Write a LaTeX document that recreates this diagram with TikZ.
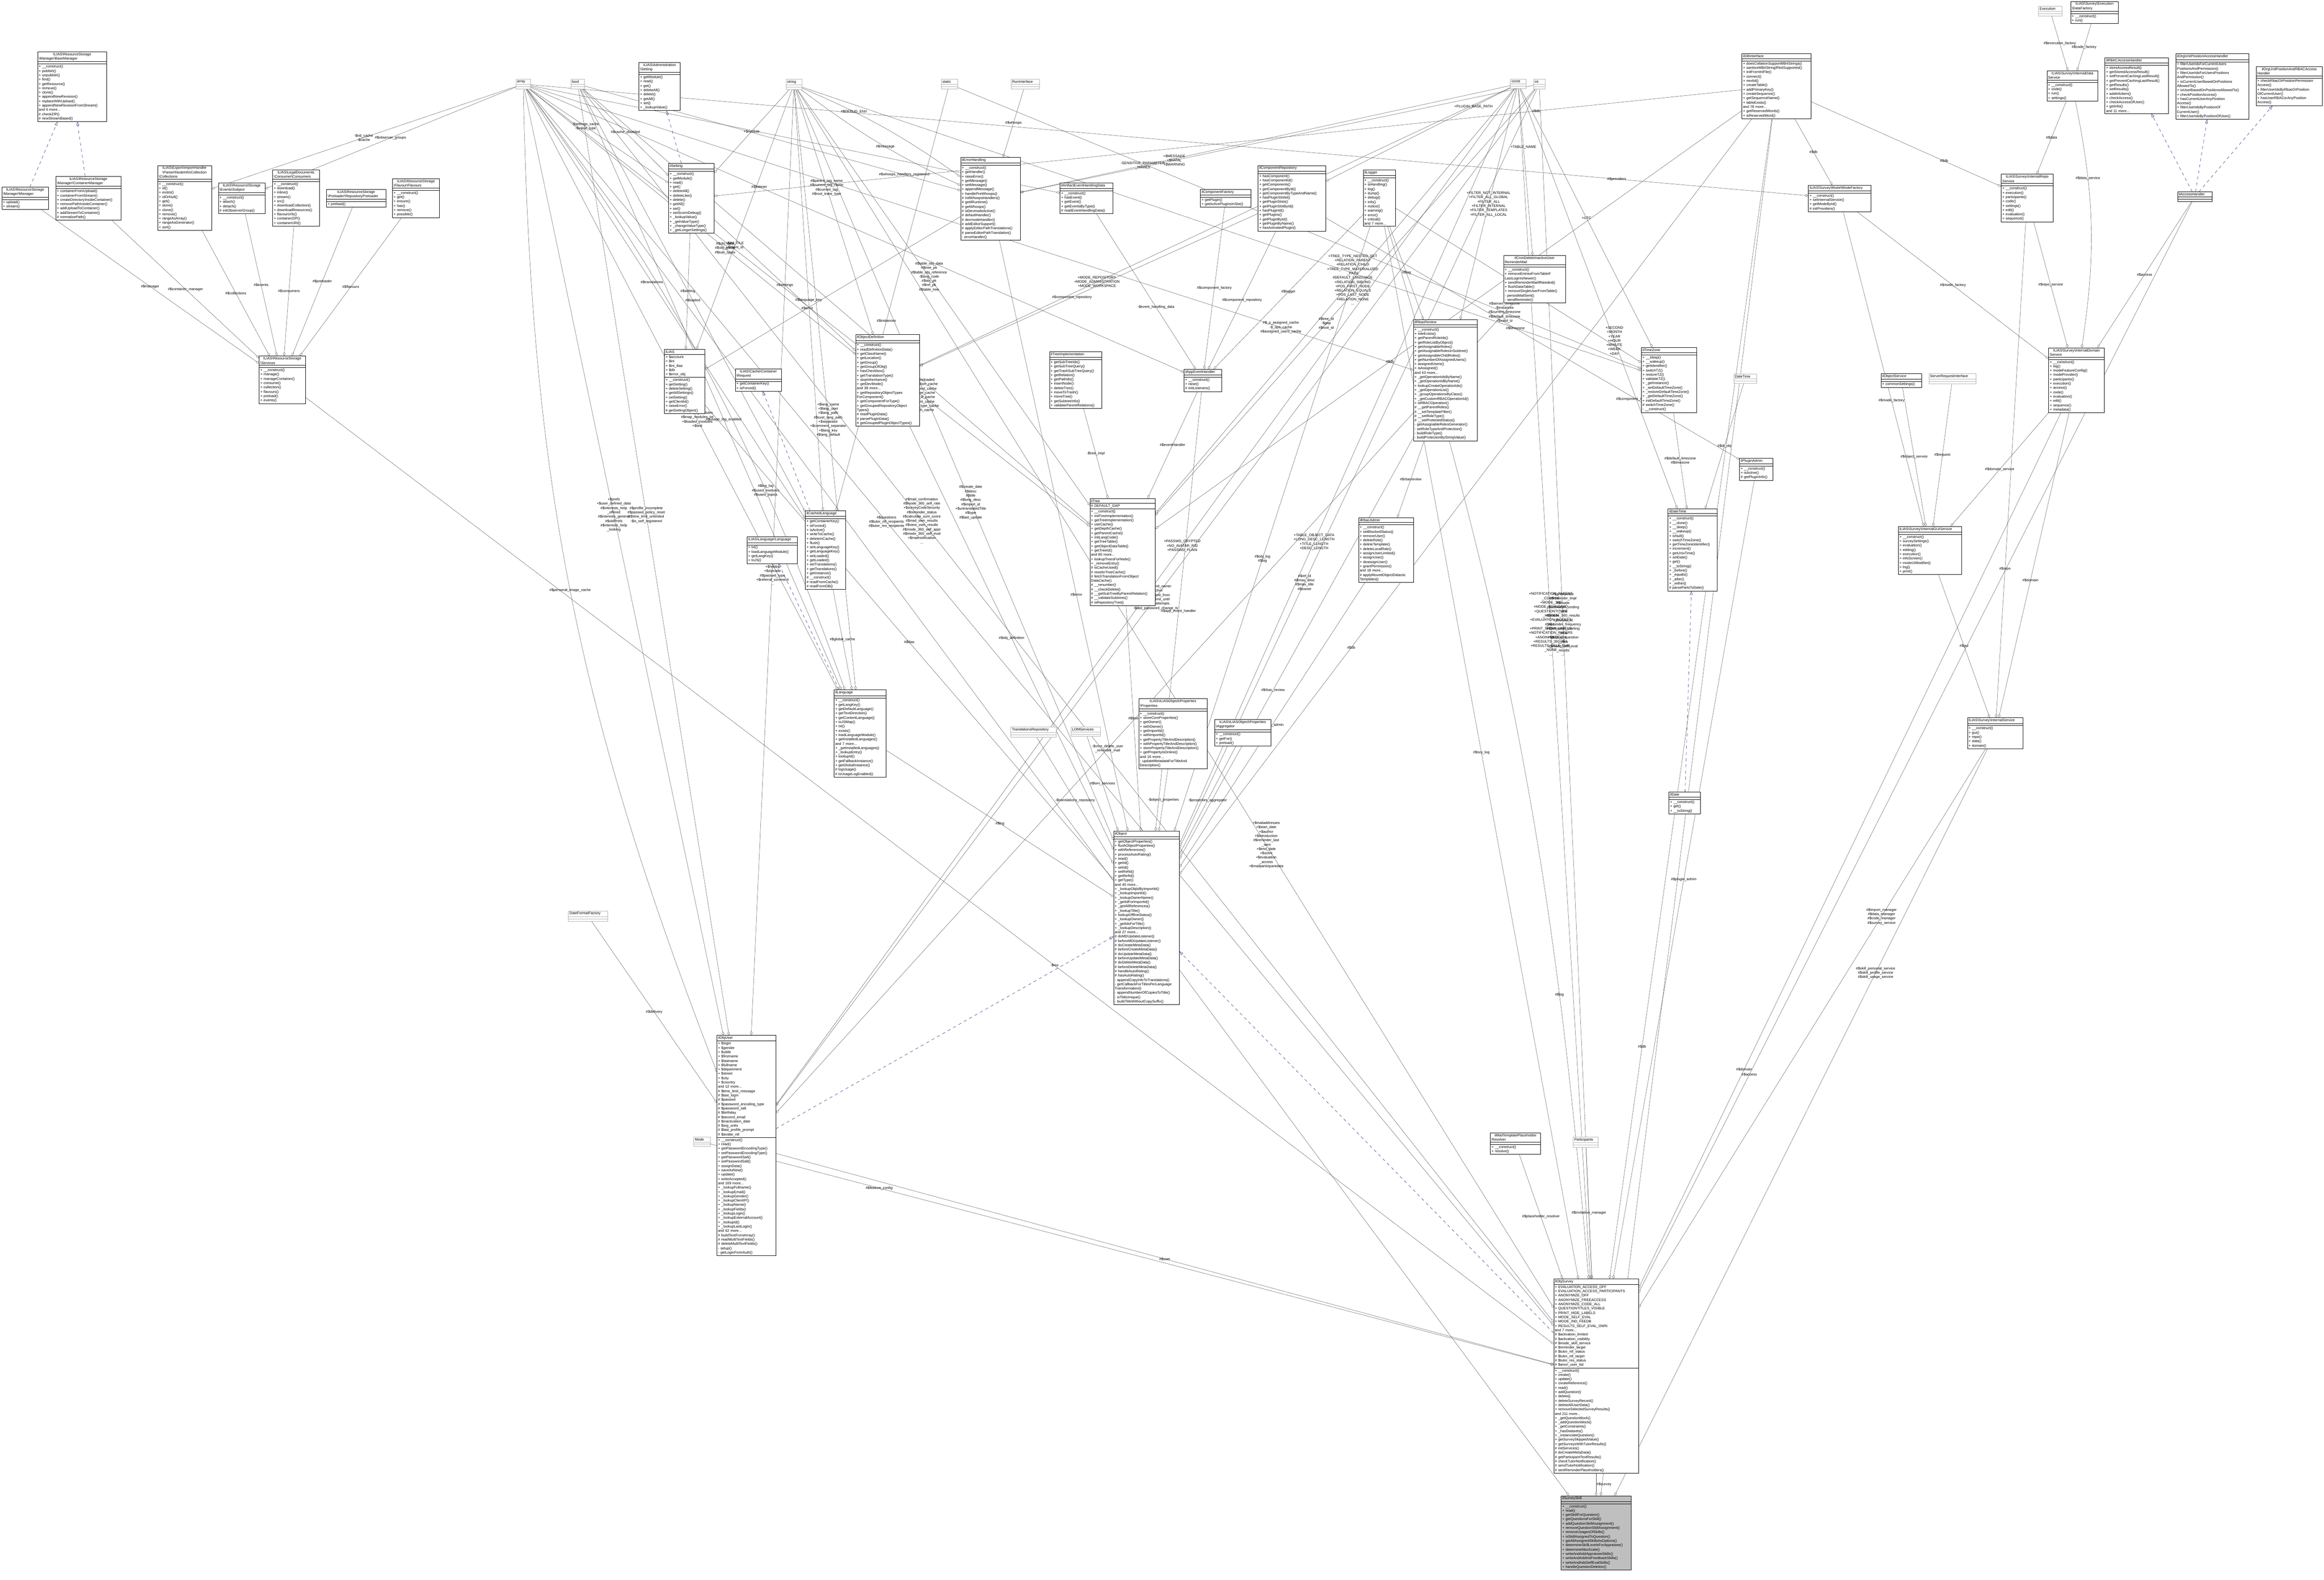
\documentclass[tikz,border=0pt]{standalone}
\usepackage{fontspec}
\setmainfont{Liberation Sans}
\usetikzlibrary{arrows.meta,shapes.multipart,backgrounds}

\newcommand{\dfont}{\fontsize{3.5}{4.2}\selectfont}
\newcommand{\bsl}{\textbackslash}
\definecolor{inhblue}{HTML}{191970}

\tikzset{
	cls/.style={
		draw=black, fill=white, line width=0.25pt,
		rectangle split, rectangle split parts=3,
		anchor=north west, align=left,
		inner xsep=0.04cm, inner ysep=0.035cm,
		font=\dfont,
	},
	typ/.style={cls, draw=gray!60},
	agg/.style={draw=black!75, line width=0.2pt,
		-{Diamond[open,length=0.13cm,width=0.08cm]}},
	inh/.style={draw=inhblue, line width=0.25pt, dashed,
		-{Triangle[open,length=0.13cm,width=0.09cm]}},
	lbl/.style={font=\dfont, align=center, inner sep=0.5pt},
}

\begin{document}
\begin{tikzpicture}
	\useasboundingbox (0,0) rectangle (79.31,-53.89);

	% resource storage
	\node[cls, text width=2.28cm] (basemgr) at (1.28,-1.76) {\centering ILIAS\bsl ResourceStorage\\\bsl Manager\bsl BaseManager
		\nodepart{two}\mbox{}
		\nodepart{three}+ \_\_construct()\\+ publish()\\+ unpublish()\\+ find()\\+ getResource()\\+ remove()\\+ clone()\\+ appendNewRevision()\\+ replaceWithUpload()\\+ appendNewRevisionFromStream()\\and 6 more...\\\# checkZIP()\\\# newStreamBased()};
	\node[cls, text width=1.51cm] (manager) at (0.06,-6.38) {\centering ILIAS\bsl ResourceStorage\\\bsl Manager\bsl Manager
		\nodepart{two}\mbox{}
		\nodepart{three}+ upload()\\+ stream()};
	\node[cls, text width=2.14cm] (contmgr) at (1.90,-6.01) {\centering ILIAS\bsl ResourceStorage\\\bsl Manager\bsl ContainerManager
		\nodepart{two}\mbox{}
		\nodepart{three}+ containerFromUpload()\\+ containerFromStream()\\+ createDirectoryInsideContainer()\\+ removePathInsideContainer()\\+ addUploadToContainer()\\+ addStreamToContainer()\\\# normalizePath()};
	\node[cls, text width=1.75cm] (collections) at (5.38,-5.64) {\centering ILIAS\bsl Export\bsl ImportHandler\\\bsl Parser\bsl NodeInfo\bsl Collection\\\bsl Collections
		\nodepart{two}\mbox{}
		\nodepart{three}+ \_\_construct()\\+ id()\\+ exists()\\+ idOrNull()\\+ get()\\+ store()\\+ clone()\\+ remove()\\+ rangeAsArray()\\+ rangeAsGenerator()\\+ sort()};
	\node[cls, text width=1.51cm] (subject) at (7.45,-6.23) {\centering ILIAS\bsl ResourceStorage\\\bsl Events\bsl Subject
		\nodepart{two}\mbox{}
		\nodepart{three}+ \_\_construct()\\+ attach()\\+ detach()\\\# initObserverGroup()};
	\node[cls, text width=1.51cm] (consumers) at (9.30,-5.79) {\centering ILIAS\bsl LegalDocuments\\\bsl Consumer\bsl Consumers
		\nodepart{two}\mbox{}
		\nodepart{three}+ \_\_construct()\\+ download()\\+ inline()\\+ stream()\\+ src()\\+ downloadCollection()\\+ downloadResources()\\+ flavourUrls()\\+ containerZIP()\\+ containerURI()};
	\node[cls, text width=1.94cm] (preloader) at (11.14,-6.45) {\centering ILIAS\bsl ResourceStorage\\\bsl Preloader\bsl RepositoryPreloader
		\nodepart{two}\mbox{}
		\nodepart{three}+ preload()};
	\node[cls, text width=1.52cm] (flavours) at (13.39,-6.09) {\centering ILIAS\bsl ResourceStorage\\\bsl Flavour\bsl Flavours
		\nodepart{two}\mbox{}
		\nodepart{three}+ \_\_construct()\\+ get()\\+ ensure()\\+ has()\\+ remove()\\+ possible()};
	\node[cls, text width=1.50cm] (services) at (8.84,-12.14) {\centering ILIAS\bsl ResourceStorage\\\bsl Services
		\nodepart{two}\mbox{}
		\nodepart{three}+ \_\_construct()\\+ manage()\\+ manageContainer()\\+ consume()\\+ collection()\\+ flavours()\\+ preload()\\+ events()};

	% plain types
	\node[typ, text width=0.42cm] (array) at (17.60,-2.70) {\centering array\nodepart{two}\mbox{}\nodepart{three}\mbox{}};
	\node[typ, text width=0.38cm] (bool) at (19.48,-2.70) {\centering bool\nodepart{two}\mbox{}\nodepart{three}\mbox{}};
	\node[typ, text width=0.46cm] (string) at (26.82,-2.70) {\centering string\nodepart{two}\mbox{}\nodepart{three}\mbox{}};
	\node[typ, text width=0.47cm] (static) at (32.12,-2.70) {\centering static\nodepart{two}\mbox{}\nodepart{three}\mbox{}};
	\node[typ, text width=0.89cm] (runif) at (34.50,-2.70) {\centering RunInterface\nodepart{two}\mbox{}\nodepart{three}\mbox{}};
	\node[typ, text width=0.45cm] (const) at (51.54,-2.70) {\centering const\nodepart{two}\mbox{}\nodepart{three}\mbox{}};
	\node[typ, text width=0.31cm] (int) at (52.33,-2.70) {\centering int\nodepart{two}\mbox{}\nodepart{three}\mbox{}};
	\node[typ, text width=0.72cm] (execution) at (69.56,-0.21) {\centering Execution\nodepart{two}\mbox{}\nodepart{three}\mbox{}};
	\node[typ, text width=0.70cm] (datetimeT) at (59.16,-12.75) {\centering DateTime\nodepart{two}\mbox{}\nodepart{three}\mbox{}};
	\node[typ, text width=1.53cm] (srvreq) at (65.82,-12.74) {\centering ServerRequestInterface\nodepart{two}\mbox{}\nodepart{three}\mbox{}};
	\node[typ, text width=1.47cm] (translrepo) at (34.49,-24.79) {\centering TranslationsRepository\nodepart{two}\mbox{}\nodepart{three}\mbox{}};
	\node[typ, text width=0.92cm] (lom) at (36.54,-24.79) {\centering LOMServices\nodepart{two}\mbox{}\nodepart{three}\mbox{}};
	\node[typ, text width=1.26cm] (dateformat) at (19.39,-31.07) {\centering DateFormatFactory\nodepart{two}\mbox{}\nodepart{three}\mbox{}};
	\node[typ, text width=0.49cm] (mode) at (23.67,-38.78) {\centering Mode\nodepart{two}\mbox{}\nodepart{three}\mbox{}};
	\node[typ, text width=0.78cm] (participants) at (53.68,-38.78) {\centering Participants\nodepart{two}\mbox{}\nodepart{three}\mbox{}};

	% settings, errors, ILIAS
	\node[cls, text width=1.33cm] (adminsetting) at (21.80,-2.12) {\centering ILIAS\bsl Administration\\\bsl Setting
		\nodepart{two}\mbox{}
		\nodepart{three}+ getModule()\\+ read()\\+ get()\\+ deleteAll()\\+ delete()\\+ getAll()\\+ set()\\+ \_lookupValue()};
	\node[cls, text width=1.47cm] (ilsetting) at (22.81,-5.57) {\centering ilSetting
		\nodepart{two}\mbox{}
		\nodepart{three}+ \_\_construct()\\+ getModule()\\+ read()\\+ get()\\+ deleteAll()\\+ deleteLike()\\+ delete()\\+ getAll()\\+ set()\\+ setScormDebug()\\+ \_lookupValue()\\+ \_getValueType()\\+ \_changeValueType()\\+ \_getLongerSettings()};
	\node[cls, text width=1.95cm] (errh) at (32.78,-5.36) {\centering ilErrorHandling
		\nodepart{two}\mbox{}
		\nodepart{three}+ \_\_construct()\\+ getHandler()\\+ raiseError()\\+ getMessage()\\+ setMessage()\\+ appendMessage()\\+ handlePreWhoops()\\\# initWhoopsHandlers()\\\# getIlRuntime()\\\# getWhoops()\\\# isDevmodeActive()\\\# defaultHandler()\\\# devmodeHandler()\\\# addEditorSupport()\\\# applyEditorPathTranslations()\\\# parseEditorPathTranslation()\\- errorHandler()};
	\node[cls, text width=1.73cm] (artifact) at (36.17,-6.23) {\centering ilArtifactEventHandlingData
		\nodepart{two}\mbox{}
		\nodepart{three}+ \_\_construct()\\+ hasEvent()\\+ getEvent()\\+ getEventsByType()\\\# readEventHandlingData()};
	\node[cls, text width=2.10cm] (objdef) at (29.20,-11.41) {\centering ilObjectDefinition
		\nodepart{two}\mbox{}
		\nodepart{three}+ \_\_construct()\\+ readDefinitionData()\\+ getClassName()\\+ getLocation()\\+ getGroup()\\+ getGroupOfObj()\\+ hasCheckbox()\\+ getTranslationType()\\+ stopInheritance()\\+ getDevMode()\\and 38 more...\\+ getRepositoryObjectTypes\\ForComponent()\\+ getComponentForType()\\+ getGroupedRepositoryObject\\Types()\\\# readPluginData()\\\# parsePluginData()\\\# getGroupedPluginObjectTypes()};
	\node[cls, text width=1.30cm] (ilias) at (22.67,-11.92) {\centering ILIAS
		\nodepart{two}+ \$account\\+ \$ini\\+ \$ini\_ilias\\+ \$db\\+ \$error\_obj
		\nodepart{three}+ \_\_construct()\\+ getSetting()\\+ deleteSetting()\\+ getAllSettings()\\+ setSetting()\\+ getClientId()\\+ raiseError()\\\# getSettingObject()};
	\node[cls, text width=1.49cm] (request) at (25.09,-12.58) {\centering ILIAS\bsl Cache\bsl Container\\\bsl Request
		\nodepart{two}\mbox{}
		\nodepart{three}+ getContainerKey()\\+ isForced()};
	\node[cls, text width=1.71cm] (treeimpl) at (35.81,-11.99) {\centering ilTreeImplementation
		\nodepart{two}\mbox{}
		\nodepart{three}+ getSubTreeIds()\\+ getSubTreeQuery()\\+ getTrashSubTreeQuery()\\+ getRelation()\\+ getPathIds()\\+ insertNode()\\+ deleteTree()\\+ moveToTrash()\\+ moveTree()\\+ getSubtreeInfo()\\+ validateParentRelations()};

	% components, logging, rbac
	\node[cls, text width=2.23cm] (comprepo) at (42.93,-5.64) {\centering ilComponentRepository
		\nodepart{two}\mbox{}
		\nodepart{three}+ hasComponent()\\+ hasComponentId()\\+ getComponents()\\+ getComponentById()\\+ getComponentByTypeAndName()\\+ hasPluginSlotId()\\+ getPluginSlots()\\+ getPluginSlotById()\\+ hasPluginId()\\+ getPlugins()\\+ getPluginById()\\+ getPluginByName()\\+ hasActivatedPlugin()};
	\node[cls, text width=1.65cm] (compfactory) at (40.96,-6.45) {\centering ilComponentFactory
		\nodepart{two}\mbox{}
		\nodepart{three}+ getPlugin()\\+ getActivePluginsInSlot()};
	\node[cls, text width=1.01cm] (logger) at (46.52,-5.79) {\centering ilLogger
		\nodepart{two}\mbox{}
		\nodepart{three}+ \_\_construct()\\+ isHandling()\\+ log()\\+ dump()\\+ debug()\\+ info()\\+ notice()\\+ warning()\\+ error()\\+ critical()\\and 7 more...};
	\node[cls, text width=2.03cm] (cron) at (51.31,-8.71) {\centering ilCronDeleteInactiveUser\\ReminderMail
		\nodepart{two}\mbox{}
		\nodepart{three}+ \_\_construct()\\+ removeEntriesFromTableIf\\LastLoginIsNewer()\\+ sendReminderMailIfNeeded()\\+ flushDataTable()\\+ removeSingleUserFromTable()\\- persistMailSent()\\- sendReminder()};
	\node[cls, text width=2.10cm] (rbacreview) at (48.23,-10.90) {\centering ilRbacReview
		\nodepart{two}\mbox{}
		\nodepart{three}+ \_\_construct()\\+ roleExists()\\+ getParentRoleIds()\\+ getRoleListByObject()\\+ getAssignableRoles()\\+ getAssignableRolesInSubtree()\\+ getAssignableChildRoles()\\+ getNumberOfAssignedUsers()\\+ assignedUsers()\\+ isAssigned()\\and 43 more...\\+ \_getOperationIdsByName()\\+ \_getOperationIdByName()\\+ lookupCreateOperationIds()\\+ \_getOperationList()\\+ \_groupOperationsByClass()\\+ \_getCustomRBACOperationId()\\+ isRBACOperation()\\\# \_\_getParentRoles()\\\# \_\_setTemplateFilter()\\\# \_\_setRoleType()\\\# \_\_setProtectedStatus()\\- getAssignableRolesGenerator()\\- setRoleTypeAndProtection()\\- buildRoleType()\\- buildProtectionByStringValue()};
	\node[cls, text width=1.80cm] (timezone) at (56.01,-11.85) {\centering ilTimeZone
		\nodepart{two}\mbox{}
		\nodepart{three}+ \_\_sleep()\\+ \_\_wakeup()\\+ getIdentifier()\\+ switchTZ()\\+ restoreTZ()\\+ validateTZ()\\+ \_getInstance()\\+ \_setDefaultTimeZone()\\+ \_restoreDefaultTimeZone()\\+ \_getDefaultTimeZone()\\+ initDefaultTimeZone()\\\# switchTimeZone()\\- \_\_construct()};
	\node[cls, text width=1.20cm] (appevent) at (40.40,-12.59) {\centering ilAppEventHandler
		\nodepart{two}\mbox{}
		\nodepart{three}+ \_\_construct()\\+ raise()\\\# initListeners()};
	\node[cls, text width=2.27cm] (dbi) at (59.44,-1.83) {\centering ilDBInterface
		\nodepart{two}\mbox{}
		\nodepart{three}+ doesCollationSupportMB4Strings()\\+ sanitizeMB4StringIfNotSupported()\\+ initFromIniFile()\\+ connect()\\+ nextId()\\+ createTable()\\+ addPrimaryKey()\\+ createSequence()\\+ getSequenceName()\\+ tableExists()\\and 78 more...\\+ getReservedWords()\\+ isReservedWord()};

	% survey services
	\node[cls, text width=1.55cm] (datafactory) at (70.66,-0.04) {\centering ILIAS\bsl Survey\bsl Execution\\\bsl DataFactory
		\nodepart{two}\mbox{}
		\nodepart{three}+ \_\_construct()\\+ run()};
	\node[cls, text width=1.66cm] (datasvc) at (69.85,-2.41) {\centering ILIAS\bsl Survey\bsl InternalData\\Service
		\nodepart{two}\mbox{}
		\nodepart{three}+ \_\_construct()\\+ code()\\+ run()\\+ settings()};
	\node[cls, text width=2.09cm] (rbacah) at (71.83,-1.97) {\centering ilRBACAccessHandler
		\nodepart{two}\mbox{}
		\nodepart{three}+ storeAccessResult()\\+ getStoredAccessResult()\\+ setPreventCachingLastResult()\\+ getPreventCachingLastResult()\\+ getResults()\\+ setResults()\\+ addInfoItem()\\+ checkAccess()\\+ checkAccessOfUser()\\+ getInfo()\\and 11 more...};
	\node[cls, text width=2.41cm] (orgah) at (74.25,-1.83) {\centering ilOrgUnitPositionAccessHandler
		\nodepart{two}\mbox{}
		\nodepart{three}+ filterUserIdsForCurrentUsers\\PositionsAndPermission()\\+ filterUserIdsForUsersPositions\\AndPermission()\\+ isCurrentUserBasedOnPositions\\AllowedTo()\\+ isUserBasedOnPositionsAllowedTo()\\+ checkPositionAccess()\\+ hasCurrentUserAnyPosition\\Access()\\+ filterUserIdsByPositionOf\\CurrentUser()\\+ filterUserIdsByPositionOfUser()};
	\node[cls, text width=2.18cm] (orgrbac) at (76.99,-2.27) {\centering ilOrgUnitPositionAndRBACAccess\\Handler
		\nodepart{two}\mbox{}
		\nodepart{three}+ checkRbacOrPositionPermission\\Access()\\+ filterUserIdsByRbacOrPosition\\OfCurrentUser()\\+ hasUserRBACorAnyPosition\\Access()};
	\node[cls, text width=1.69cm] (reposvc) at (68.29,-5.94) {\centering ILIAS\bsl Survey\bsl InternalRepo\\Service
		\nodepart{two}\mbox{}
		\nodepart{three}+ \_\_construct()\\+ execution()\\+ participants()\\+ code()\\+ settings()\\+ edit()\\+ evaluation()\\+ sequence()};
	\node[cls, text width=2.06cm] (modefactory) at (61.71,-6.31) {\centering ILIAS\bsl Survey\bsl Mode\bsl ModeFactory
		\nodepart{two}\mbox{}
		\nodepart{three}+ \_\_construct()\\+ setInternalService()\\+ getModeById()\\\# initProviders()};
	\node[cls, text width=1.09cm] (accessh) at (74.31,-6.54) {\centering ilAccessHandler
		\nodepart{two}\mbox{}
		\nodepart{three}\mbox{}};
	\node[cls, text width=1.82cm] (domainsvc) at (69.91,-11.86) {\centering ILIAS\bsl Survey\bsl InternalDomain\\Service
		\nodepart{two}\mbox{}
		\nodepart{three}+ \_\_construct()\\+ log()\\+ modeFeatureConfig()\\+ modeProvider()\\+ participants()\\+ execution()\\+ access()\\+ code()\\+ evaluation()\\+ edit()\\+ sequence()\\+ metadata()};
	\node[cls, text width=1.30cm] (objsvc) at (64.19,-12.74) {\centering ilObjectService
		\nodepart{two}\mbox{}
		\nodepart{three}+ commonSettings()};
	\node[cls, text width=2.07cm] (guisvc) at (64.78,-17.95) {\centering ILIAS\bsl Survey\bsl InternalGUIService
		\nodepart{two}\mbox{}
		\nodepart{three}+ \_\_construct()\\+ surveySettings()\\+ evaluation()\\+ editing()\\+ execution()\\+ infoScreen()\\+ modeUIModifier()\\+ lng()\\+ print()};
	\node[cls, text width=1.81cm] (intsvc) at (67.14,-24.48) {\centering ILIAS\bsl Survey\bsl InternalService
		\nodepart{two}\mbox{}
		\nodepart{three}+ \_\_construct()\\+ gui()\\+ repo()\\+ data()\\+ domain()};
	\node[cls, text width=1.06cm] (pluginadmin) at (59.36,-15.62) {\centering ilPluginAdmin
		\nodepart{two}\mbox{}
		\nodepart{three}+ \_\_construct()\\+ isActive()\\\# getPluginInfo()};
	\node[cls, text width=1.60cm] (datetime) at (56.92,-17.35) {\centering ilDateTime
		\nodepart{two}\mbox{}
		\nodepart{three}+ \_\_construct()\\+ \_\_clone()\\+ \_\_sleep()\\+ \_\_wakeup()\\+ isNull()\\+ switchTimeZone()\\+ getTimeZoneIdentifier()\\+ increment()\\+ getUnixTime()\\+ setDate()\\+ get()\\+ \_\_toString()\\+ \_before()\\+ \_equals()\\+ \_after()\\+ \_within()\\\# parsePartsToDate()};
	\node[cls, text width=1.00cm] (date) at (56.95,-27.02) {\centering ilDate
		\nodepart{two}\mbox{}
		\nodepart{three}+ \_\_construct()\\+ get()\\+ \_\_toString()};

	% language, tree, object
	\node[cls, text width=1.63cm] (langlang) at (25.49,-18.31) {\centering ILIAS\bsl Language\bsl Language
		\nodepart{two}\mbox{}
		\nodepart{three}+ txt()\\+ loadLanguageModule()\\+ getLangKey()\\+ toJS()};
	\node[cls, text width=1.30cm] (cachedlang) at (27.48,-17.42) {\centering ilCachedLanguage
		\nodepart{two}\mbox{}
		\nodepart{three}+ getContainerKey()\\+ isForced()\\+ isActive()\\+ writeToCache()\\+ deleteInCache()\\+ flush()\\+ setLanguageKey()\\+ getLanguageKey()\\+ setLoaded()\\+ getLoaded()\\+ setTranslations()\\+ getTranslations()\\+ getInstance()\\\# \_\_construct()\\\# readFromCache()\\\# readFromDB()};
	\node[cls, text width=2.15cm] (tree) at (37.19,-17.00) {\centering ilTree
		\nodepart{two}\# DEFAULT\_GAP
		\nodepart{three}+ \_\_construct()\\+ initTreeImplementation()\\+ getTreeImplementation()\\+ useCache()\\+ getDepthCache()\\+ getParentCache()\\+ initLangCode()\\+ getTreeTable()\\+ getObjectDataTable()\\+ getTreeId()\\and 80 more...\\+ lookupTreesForNode()\\+ \_removeEntry()\\\# isCacheUsed()\\\# resetInTreeCache()\\\# fetchTranslationFromObject\\DataCache()\\\# \_\_renumber()\\\# \_\_checkDelete()\\\# \_\_getSubTreeByParentRelation()\\\# \_\_validateSubtrees()\\\# isRepositoryTree()};
	\node[cls, text width=1.79cm] (rbacadmin) at (46.36,-17.65) {\centering ilRbacAdmin
		\nodepart{two}\mbox{}
		\nodepart{three}+ \_\_construct()\\+ setBlockedStatus()\\+ removeUser()\\+ deleteRole()\\+ deleteTemplate()\\+ deleteLocalRole()\\+ assignUserLimited()\\+ assignUser()\\+ deassignUser()\\+ grantPermission()\\and 18 more...\\\# applyMovedObjectDidactic\\Templates()};
	\node[cls, text width=1.70cm] (language) at (28.46,-23.53) {\centering ilLanguage
		\nodepart{two}\mbox{}
		\nodepart{three}+ \_\_construct()\\+ getLangKey()\\+ getDefaultLanguage()\\+ getTextDirection()\\+ getContentLanguage()\\+ toJSMap()\\+ txt()\\+ exists()\\+ loadLanguageModule()\\+ getInstalledLanguages()\\and 7 more...\\+ \_getInstalledLanguages()\\+ \_lookupEntry()\\+ lookupId()\\+ getFallbackInstance()\\+ getGlobalInstance()\\\# logUsage()\\\# isUsageLogEnabled()};
	\node[cls, text width=2.25cm] (properties) at (38.86,-23.83) {\centering ILIAS\bsl ILIASObject\bsl Properties\\\bsl Properties
		\nodepart{two}\mbox{}
		\nodepart{three}+ \_\_construct()\\+ storeCoreProperties()\\+ getOwner()\\+ withOwner()\\+ getImportId()\\+ withImportId()\\+ getPropertyTitleAndDescription()\\+ withPropertyTitleAndDescription()\\+ storePropertyTitleAndDescription()\\+ getPropertyIsOnline()\\and 16 more...\\- updateMetadataForTitleAnd\\Description()};
	\node[cls, text width=1.83cm] (aggregator) at (41.45,-24.54) {\centering ILIAS\bsl ILIASObject\bsl Properties\\\bsl Aggregator
		\nodepart{two}\mbox{}
		\nodepart{three}+ \_\_construct()\\+ getFor()\\+ preload()};
	\node[cls, text width=2.16cm] (object) at (38.00,-28.34) {\centering ilObject
		\nodepart{two}\mbox{}
		\nodepart{three}+ getObjectProperties()\\+ flushObjectProperties()\\+ withReferences()\\+ processAutoRating()\\+ read()\\+ getId()\\+ setId()\\+ setRefId()\\+ getRefId()\\+ getType()\\and 40 more...\\+ \_lookupObjIdByImportId()\\+ \_lookupImportId()\\+ \_lookupOwnerName()\\+ \_getIdForImportId()\\+ \_getAllReferences()\\+ \_lookupTitle()\\+ lookupOfflineStatus()\\+ \_lookupOwner()\\+ \_getIdsForTitle()\\+ \_lookupDescription()\\and 27 more...\\\# doMDUpdateListener()\\\# beforeMDUpdateListener()\\\# doCreateMetaData()\\\# beforeCreateMetaData()\\\# doUpdateMetaData()\\\# beforeUpdateMetaData()\\\# doDeleteMetaData()\\\# beforeDeleteMetaData()\\\# handleAutoRating()\\\# hasAutoRating()\\- appendCopyInfoToTranslations()\\- getCallbackForTitlesPerLanguage\\Transformation()\\- appendNumberOfCopiesToTitle()\\- isTitleUnique()\\- buildTitleWithoutCopySuffix()};

	% user, survey
	\node[cls, text width=1.93cm] (objuser) at (24.46,-35.31) {\centering ilObjUser
		\nodepart{two}+ \$login\\+ \$gender\\+ \$utitle\\+ \$firstname\\+ \$lastname\\+ \$fullname\\+ \$department\\+ \$street\\+ \$city\\+ \$country\\and 12 more...\\\# \$time\_limit\_message\\\# \$last\_login\\\# \$passwd\\\# \$password\_encoding\_type\\\# \$password\_salt\\\# \$birthday\\\# \$second\_email\\\# \$inactivation\_date\\\# \$org\_units\\\# \$last\_profile\_prompt\\\# \$avatar\_rid
		\nodepart{three}+ \_\_construct()\\+ read()\\+ getPasswordEncodingType()\\+ setPasswordEncodingType()\\+ getPasswordSalt()\\+ setPasswordSalt()\\+ assignData()\\+ saveAsNew()\\+ update()\\+ writeAccepted()\\and 169 more...\\+ \_lookupFullname()\\+ \_lookupEmail()\\+ \_lookupGender()\\+ \_lookupClientIP()\\+ \_lookupName()\\+ \_lookupFields()\\+ \_lookupLogin()\\+ \_lookupExternalAccount()\\+ \_lookupId()\\+ \_lookupLastLogin()\\and 62 more...\\\# buildTextFromArray()\\\# readMultiTextFields()\\\# deleteMultiTextFields()\\- setup()\\- getLoginFromAuth()};
	\node[cls, text width=1.63cm] (placeholder) at (50.86,-38.64) {\centering ilMailTemplatePlaceholder\\Resolver
		\nodepart{two}\mbox{}
		\nodepart{three}+ \_\_construct()\\+ resolve()};
	\node[cls, text width=2.81cm] (objsurvey) at (53.02,-43.62) {\centering ilObjSurvey
		\nodepart{two}+ EVALUATION\_ACCESS\_OFF\\+ EVALUATION\_ACCESS\_PARTICIPANTS\\+ ANONYMIZE\_OFF\\+ ANONYMIZE\_FREEACCESS\\+ ANONYMIZE\_CODE\_ALL\\+ QUESTIONTITLES\_VISIBLE\\+ PRINT\_HIDE\_LABELS\\+ MODE\_SELF\_EVAL\\+ MODE\_IND\_FEEDB\\+ RESULTS\_SELF\_EVAL\_OWN\\and 7 more...\\\# \$activation\_limited\\\# \$activation\_visibility\\\# \$mode\_skill\_service\\\# \$reminder\_target\\\# \$tutor\_ntf\_status\\\# \$tutor\_ntf\_target\\\# \$tutor\_res\_status\\\# \$anon\_user\_list
		\nodepart{three}+ \_\_construct()\\+ create()\\+ update()\\+ createReference()\\+ read()\\+ addQuestion()\\+ delete()\\+ deleteSurveyRecord()\\+ deleteAllUserData()\\+ removeSelectedSurveyResults()\\and 211 more...\\+ \_getQuestionblock()\\+ \_addQuestionblock()\\+ \_getConstraints()\\+ \_hasDatasets()\\+ \_instanciateQuestion()\\+ getSurveySkippedValue()\\+ getSurveysWithTutorResults()\\\# initServices()\\\# doCreateMetaData()\\\# getParticipantTextResults()\\\# checkTutorNotification()\\\# sendTutorNotification()\\\# sentReminderPlaceholders()};
	\node[cls, fill=gray!50, text width=2.31cm] (skill) at (53.27,-51.02) {\centering ilSurveySkill
		\nodepart{two}\mbox{}
		\nodepart{three}+ \_\_construct()\\+ read()\\+ getSkillForQuestion()\\+ getQuestionsForSkill()\\+ addQuestionSkillAssignment()\\+ removeQuestionSkillAssignment()\\+ removeUsagesOfSkills()\\+ isSkillAssignedToQuestion()\\+ getAllAssignedSkillsAsOptions()\\+ determineSkillLevelsForAppraisee()\\+ determineMaxScale()\\+ writeAndAddAppraiseeSkills()\\+ writeAndAddIndFeedbackSkills()\\+ writeAndAddSelfEvalSkills()\\+ handleQuestionDeletion()};

	\begin{scope}[on background layer]
		% inheritance
		\draw[inh] (manager) -- (basemgr);
		\draw[inh] (contmgr) -- (basemgr);
		\draw[inh] (ilsetting) -- (adminsetting);
		\draw[inh] (cachedlang) -- (request);
		\draw[inh] (language) -- (langlang);
		\draw[inh] (accessh) -- (rbacah);
		\draw[inh] (accessh) -- (orgah);
		\draw[inh] (accessh) -- (orgrbac);
		\draw[inh] (date) -- (datetime);
		\draw[inh] (objuser) -- (object);
		\draw[inh] (objsurvey) -- (object);

		% resource storage
		\draw[agg] (manager) -- node[lbl]{\#\$manager} (services);
		\draw[agg] (contmgr) -- node[lbl]{\#\$container\_manager} (services);
		\draw[agg] (collections) -- node[lbl]{\#\$collections} (services);
		\draw[agg] (subject) -- node[lbl]{\#\$events} (services);
		\draw[agg] (consumers) -- node[lbl]{\#\$consumers} (services);
		\draw[agg] (preloader) -- node[lbl]{\#\$preloader} (services);
		\draw[agg] (flavours) -- node[lbl]{\#\$flavours} (services);
		\draw[agg] (array) -- node[lbl]{-\$rid\_cache\\-\$cache} (collections);
		\draw[agg] (array) -- node[lbl]{\#\$observer\_groups} (subject);

		% settings, errors
		\draw[agg] (array) -- node[lbl, pos=0.4]{-\$settings\_cache\\-\$value\_type} (ilsetting);
		\draw[agg] (bool) -- node[lbl]{\#\$cache\_disabled} (ilsetting);
		\draw[agg] (string) -- node[lbl]{+\$module} (ilsetting);
		\draw[agg] (ilsetting) -- node[lbl]{\#\$setting} (ilias);
		\draw[agg] (string) -- node[lbl, pos=0.6]{+\$INI\_FILE\\+\$client\_id} (ilias);
		\draw[agg] (string) to[bend left=6] node[lbl, pos=0.3]{\#\$DEBUG\_ENV} (errh);
		\draw[agg] (string) to[bend right=6] node[lbl, pos=0.55]{\#\$message} (errh);
		\draw[agg] (bool) -- node[lbl, pos=0.85]{\#\$whoops\_handlers\_registered} (errh);
		\draw[agg] (runif) -- node[lbl]{\#\$whoops} (errh);
		\draw[agg] (const) -- node[lbl, pos=0.75]{-SENSITIVE\_PARAMETER\\\_NAMES} (errh);
		\draw[agg] (int) -- node[lbl, pos=0.7]{+\$MESSAGE\\+\$FATAL\\+\$WARNING} (errh);
		\draw[agg] (array) -- node[lbl, pos=0.85]{\#\$event\_handling\_data} (artifact);
		\draw[agg] (errh) -- node[lbl, pos=0.6]{\#\$error} (ilias);

		% object definition, tree
		\draw[agg] (array) -- node[lbl, pos=0.6]{\#\$obj\_data\\\#\$obj\_group\\\#\$sub\_types} (objdef);
		\draw[agg] (string) -- node[lbl, pos=0.4]{\#\$parent\_tag\_name\\\#\$current\_tag\_name\\\#\$current\_tag\\\#\$root\_trans\_type} (objdef);
		\draw[agg] (ilsetting) -- node[lbl]{\#\$settings} (objdef);
		\draw[agg] (comprepo) -- node[lbl, pos=0.55]{\#\$component\_repository} (objdef);
		\draw[agg] (const) -- node[lbl, pos=0.7]{+MODE\_REPOSITORY\\+MODE\_ADMINISTRATION\\+MODE\_WORKSPACE} (objdef);
		\draw[agg] (array) -- node[lbl, pos=0.7]{\#\$oc\_preloaded\\\#\$translation\_cache\\\#\$is\_saved\_cache\\\#\$in\_tree\_cache\\-\$path\_id\_cache\\\#\$parent\_cache\\\#\$parent\_type\_cache\\\#\$depth\_cache} (tree);
		\draw[agg] (bool) -- node[lbl, pos=0.6]{\#\$use\_cache} (tree);
		\draw[agg] (string) -- node[lbl, pos=0.45]{\#\$table\_obj\_data\\\#\$tree\_pk\\\#\$table\_obj\_reference\\-\$lang\_code\\\#\$obj\_pk\\\#\$ref\_pk\\\#\$table\_tree} (tree);
		\draw[agg] (const) -- node[lbl, pos=0.45]{+TREE\_TYPE\_NESTED\_SET\\+RELATION\_PARENT\\+RELATION\_CHILD\\+TREE\_TYPE\_MATERIALIZED\\\_PATH\\\#DEFAULT\_LANGUAGE\\+RELATION\_SIBLING\\+POS\_FIRST\_NODE\\+RELATION\_EQUALS\\+POS\_LAST\_NODE\\+RELATION\_NONE\\...} (tree);
		\draw[agg] (int) -- node[lbl, pos=0.55]{\#\$tree\_id\\-\$gap\\\#\$root\_id} (tree);
		\draw[agg] (dbi) -- node[lbl, pos=0.6]{\#\$db} (tree);
		\draw[agg] (treeimpl) -- node[lbl]{-\$tree\_impl} (tree);
		\draw[agg] (appevent) -- node[lbl]{\#\$eventHandler} (tree);

		% language
		\draw[agg] (static) -- node[lbl, pos=0.55]{\#\$instances} (cachedlang);
		\draw[agg] (string) -- node[lbl, pos=0.5]{\#\$language\_key} (cachedlang);
		\draw[agg] (bool) -- node[lbl, pos=0.5]{\#\$loaded} (cachedlang);
		\draw[agg] (array) -- node[lbl, pos=0.45]{\#\$translations} (cachedlang);
		\draw[agg] (cachedlang) -- node[lbl]{\#\$global\_cache} (language);
		\draw[agg] (array) -- node[lbl, pos=0.55]{\#\$cached\_modules\\\#\$map\_modules\_txt\\+\$loaded\_modules\\+\$text} (language);
		\draw[agg] (string) -- node[lbl, pos=0.55]{+\$lang\_name\\+\$lang\_user\\+\$lang\_path\\\#\$cust\_lang\_path\\+\$separator\\+\$comment\_separator\\+\$lang\_key\\+\$lang\_default} (language);
		\draw[agg] (bool) -- node[lbl, pos=0.55]{\#\$usage\_log\_enabled} (language);
		\draw[agg] (array) to[bend left=8] node[lbl, pos=0.7]{\#\$lng\_log\\\#\$used\_modules\\\#\$used\_topics} (language);

		% event handler, components
		\draw[agg] (array) -- node[lbl, pos=0.35]{\#\$listener} (appevent);
		\draw[agg] (artifact) -- node[lbl, pos=0.6]{-\$event\_handling\_data} (appevent);
		\draw[agg] (compfactory) -- node[lbl]{\#\$component\_factory} (appevent);
		\draw[agg] (comprepo) -- node[lbl]{\#\$component\_repository} (appevent);
		\draw[agg] (logger) -- node[lbl]{\#\$logger} (appevent);
		\draw[agg] (dbi) -- node[lbl, pos=0.2]{\#\$db} (ilsetting);
		\draw[agg] (const) -- node[lbl, pos=0.2]{+PLUGIN\_BASE\_PATH} (comprepo);

		% rbac, time
		\draw[agg] (array) -- node[lbl, pos=0.85]{\#\$\_s\_assigned\_cache\\-\$\_ops\_cache\\\#\$assigned\_users\_cache} (rbacreview);
		\draw[agg] (const) -- node[lbl, pos=0.5]{+FILTER\_NOT\_INTERNAL\\+FILTER\_ALL\_GLOBAL\\+FILTER\_ALL\\+FILTER\_INTERNAL\\+FILTER\_TEMPLATES\\+FILTER\_ALL\_LOCAL} (rbacreview);
		\draw[agg] (logger) -- node[lbl]{\#\$log} (rbacreview);
		\draw[agg] (const) -- node[lbl, pos=0.35]{+TABLE\_NAME} (cron);
		\draw[agg] (string) -- node[lbl, pos=0.85]{\#\$timezone} (timezone);
		\draw[agg] (static) -- node[lbl, pos=0.8]{\#\$server\_timezone\\-\$instances\\\#\$current\_timezone\\\#\$default\_timezone\\+\$valid\_tz} (timezone);
		\draw[agg] (const) -- node[lbl, pos=0.5]{+UTC} (timezone);
		\draw[agg] (logger) -- node[lbl, pos=0.6]{\#\$log} (timezone);
		\draw[agg] (comprepo) -- node[lbl, pos=0.75]{\#\$component\_repository} (pluginadmin);
		\draw[agg] (timezone) -- node[lbl]{\#\$default\_timezone\\\#\$timezone} (datetime);
		\draw[agg] (const) -- node[lbl, pos=0.6]{+SECOND\\+MONTH\\+YEAR\\+HOUR\\+MINUTE\\+WEEK\\+DAY} (datetime);
		\draw[agg] (rbacreview) -- node[lbl]{\#\$rbacreview} (rbacadmin);

		% object
		\draw[agg] (string) -- node[lbl, pos=0.55]{\#\$create\_date\\\#\$desc\\\#\$title\\\#\$long\_desc\\\#\$import\_id\\+\$untranslatedTitle\\\#\$type\\\#\$last\_update} (object);
		\draw[agg] (const) -- node[lbl, pos=0.6]{+TABLE\_OBJECT\_DATA\\+LONG\_DESC\_LENGTH\\+TITLE\_LENGTH\\+DESC\_LENGTH} (object);
		\draw[agg] (int) -- node[lbl, pos=0.65]{\#\$ref\_id\\\#\$max\_desc\\\#\$max\_title\\\#\$owner} (object);
		\draw[agg] (logger) -- node[lbl, pos=0.55]{\#\$obj\_log\\\#\$log} (object);
		\draw[agg] (errh) -- node[lbl, pos=0.6]{\#\$error} (object);
		\draw[agg] (ilias) -- node[lbl]{\#\$ilias} (object);
		\draw[agg] (objdef) -- node[lbl]{\#\$obj\_definition} (object);
		\draw[agg] (tree) -- node[lbl]{\#\$tree} (object);
		\draw[agg] (appevent) -- node[lbl]{\#\$app\_event\_handler} (object);
		\draw[agg] (rbacreview) -- node[lbl, pos=0.6]{\#\$rbac\_review} (object);
		\draw[agg] (rbacadmin) -- node[lbl]{\#\$rbac\_admin} (object);
		\draw[agg] (language) -- node[lbl]{\#\$lng} (object);
		\draw[agg] (translrepo) -- node[lbl]{-\$translations\_repository} (object);
		\draw[agg] (lom) -- node[lbl]{\#\$lom\_services} (object);
		\draw[agg] (properties) -- node[lbl]{-\$object\_properties} (object);
		\draw[agg] (aggregator) -- node[lbl]{-\$properties\_aggregator} (object);
		\draw[agg] (dbi) -- node[lbl, pos=0.7]{\#\$db} (object);

		% user
		\draw[agg] (cron) -- node[lbl, pos=0.55]{-\$cron\_delete\_user\\\_reminder\_mail} (objuser);
		\draw[agg] (const) -- node[lbl, pos=0.45]{+PASSWD\_CRYPTED\\+NO\_AVATAR\_RID\\+PASSWD\_PLAIN} (objuser);
		\draw[agg] (array) -- node[lbl, pos=0.45]{+\$prefs\\+\$user\_defined\_data\\\#\$interests\_help\\\_offered\\\#\$interests\_general\\\#\$oldPrefs\\\#\$interests\_help\\\_looking} (objuser);
		\draw[agg] (bool) -- node[lbl, pos=0.45]{\#\$profile\_incomplete\\\#\$passwd\_policy\_reset\\\#\$time\_limit\_unlimited\\-\$is\_self\_registered} (objuser);
		\draw[agg] (string) -- node[lbl, pos=0.5]{\#\$ext\_account\\+\$email\\+\$phone\_office\\+\$institution\\\#\$first\_login\\+\$longitude\\+\$hobby\\+\$zipcode\\\#\$passwd\_type\\+\$referral\_comment\\...} (objuser);
		\draw[agg] (int) -- node[lbl, pos=0.5]{\#\$time\_limit\_owner\\+\$active\\\#\$time\_limit\_from\\\#\$time\_limit\_until\\+\$login\_attempts\\-\$last\_password\_change\_ts} (objuser);
		\draw[agg] (array) to[bend right=10] node[lbl, pos=0.5]{\#\$personal\_image\_cache} (objuser);
		\draw[agg] (dateformat) -- node[lbl]{\#\$delivery} (objuser);

		% survey services
		\draw[agg] (execution) -- node[lbl]{\#\$execution\_factory} (datasvc);
		\draw[agg] (datafactory) -- node[lbl]{\#\$code\_factory} (datasvc);
		\draw[agg] (dbi) -- node[lbl, pos=0.7]{\#\$db} (reposvc);
		\draw[agg] (datasvc) -- node[lbl]{\#\$data} (reposvc);
		\draw[agg] (array) -- node[lbl, pos=0.85]{\#\$providers} (modefactory);
		\draw[agg] (dbi) -- node[lbl]{\#\$db} (modefactory);
		\draw[agg] (modefactory) -- node[lbl]{\#\$mode\_factory} (domainsvc);
		\draw[agg] (reposvc) -- node[lbl]{\#\$repo\_service} (domainsvc);
		\draw[agg] (accessh) -- node[lbl]{\#\$access} (domainsvc);
		\draw[agg] (datasvc) to[bend left=10] node[lbl, pos=0.3]{\#\$data\_service} (domainsvc);
		\draw[agg] (objsvc) -- node[lbl]{\#\$object\_service} (guisvc);
		\draw[agg] (srvreq) -- node[lbl]{\#\$request} (guisvc);
		\draw[agg] (domainsvc) -- node[lbl]{\#\$domain\_service} (guisvc);
		\draw[agg] (modefactory) -- node[lbl, pos=0.6]{\#\$mode\_factory} (guisvc);
		\draw[agg] (guisvc) -- node[lbl]{\#\$gui} (intsvc);
		\draw[agg] (reposvc) -- node[lbl, pos=0.7]{\#\$repo} (intsvc);
		\draw[agg] (domainsvc) -- node[lbl, pos=0.55]{\#\$domain} (intsvc);
		\draw[agg] (datetimeT) -- node[lbl]{\#\$dt\_obj} (datetime);

		% survey
		\draw[agg] (array) -- node[lbl, pos=0.35]{\#\$questions\\\#\$tutor\_ntf\_recipients\\\#\$tutor\_res\_recipients} (objsurvey);
		\draw[agg] (bool) -- node[lbl, pos=0.35]{\#\$mail\_confirmation\\\#\$mode\_360\_self\_rate\\+\$surveyCodeSecurity\\\#\$reminder\_status\\\#\$calculate\_sum\_score\\\#\$mail\_own\_results\\\#\$view\_own\_results\\\#\$mode\_360\_self\_appr\\\#\$mode\_360\_self\_eval\\+\$mailnotification\\...} (objsurvey);
		\draw[agg] (string) -- node[lbl, pos=0.62]{+\$mailaddresses\\+\$start\_date\\+\$author\\+\$introduction\\\#\$reminder\_last\\\_sent\\+\$end\_date\\+\$outro\\+\$evaluation\\\_access\\+\$mailparticipantdata} (objsurvey);
		\draw[agg] (const) -- node[lbl, pos=0.45]{+NOTIFICATION\_PARENT\\\_COURSE\\+MODE\_360\\+MODE\_STANDARD\\+QUESTIONTITLES\\\_HIDDEN\\+EVALUATION\_ACCESS\\\_ALL\\+PRINT\_SHOW\_LABELS\\+NOTIFICATION\_RATERS\\+ANONYMIZE\_ON\\+RESULTS\_360\_ALL\\+RESULTS\_SELF\_EVAL\\\_NONE\\...} (objsurvey);
		\draw[agg] (int) -- node[lbl, pos=0.45]{+\$anonymize\\\#\$reminder\_tmpl\\\#\$mode\\\#\$activation\_ending\\\_time\\\#\$mode\_360\_results\\+\$survey\_id\\\#\$reminder\_frequency\\\#\$activation\_starting\\\_time\\+\$display\_question\\\_titles\\\#\$mode\_self\_eval\\\_results\\...} (objsurvey);
		\draw[agg] (logger) -- node[lbl, pos=0.5]{\#\$svy\_log} (objsurvey);
		\draw[agg] (pluginadmin) -- node[lbl]{\#\$plugin\_admin} (objsurvey);
		\draw[agg] (objuser) -- node[lbl]{\#\$user} (objsurvey);
		\draw[agg] (placeholder) -- node[lbl]{\#\$placeholder\_resolver} (objsurvey);
		\draw[agg] (participants) -- node[lbl]{\#\$invitation\_manager} (objsurvey);
		\draw[agg] (mode) -- node[lbl, pos=0.2]{\#\$feature\_config} (objsurvey);
		\draw[agg] (domainsvc) -- node[lbl, pos=0.75]{\#\$domain} (objsurvey);
		\draw[agg] (logger) to[bend left=6] node[lbl, pos=0.75]{\#\$log} (objsurvey);
		\draw[agg] (dbi) -- node[lbl, pos=0.8]{\#\$db} (objsurvey);
		\draw[agg] (accessh) -- node[lbl, pos=0.8]{\#\$access} (objsurvey);
		\draw[agg] (intsvc) -- node[lbl, pos=0.3]{\#\$import\_manager\\\#\$data\_manager\\\#\$code\_manager\\\#\$survey\_service} (objsurvey);
		\draw[agg] (services) -- node[lbl, pos=0.6]{-\$rss} (objsurvey);
		\draw[agg] (objsurvey) -- node[lbl, right]{\#\$survey} (skill);
		\draw[agg] (array) -- node[lbl, pos=0.6]{\#\$q\_skill} (skill);
		\draw[agg] (intsvc) -- node[lbl, pos=0.3]{\#\$skill\_personal\_service\\\#\$skill\_profile\_service\\\#\$skill\_usage\_service} (skill);
		\draw[agg] (dbi) -- node[lbl, pos=0.85]{\#\$db} (skill);
	\end{scope}
\end{tikzpicture}
\end{document}
